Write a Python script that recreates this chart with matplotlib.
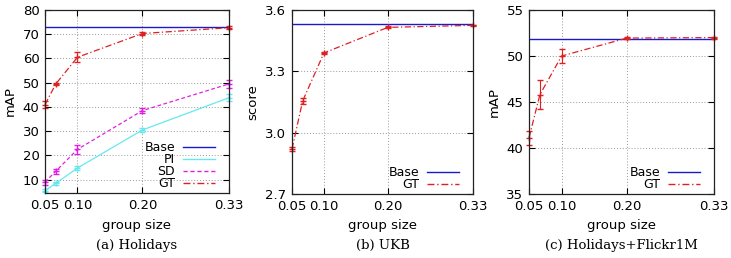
import numpy as np
import matplotlib
matplotlib.use("Agg")
import matplotlib.pyplot as plt
from matplotlib.lines import Line2D

# group sizes (1/20, 1/15, 1/10, 1/5, 1/3)
group_size = [1 / 20, 1 / 15, 1 / 10, 1 / 5, 1 / 3]
xtick_vals = [0.05, 0.10, 0.20, 1 / 3]
xtick_labels = ["0.05", "0.10", "0.20", "0.33"]

# (a) Holidays
hol_base = 73.0
hol_gt = [41.0, 49.5, 60.5, 70.3, 72.7]
hol_gt_err = [1.5, 0.5, 2.0, 0.5, 0.5]
hol_sd = [9.0, 13.5, 22.5, 38.5, 49.5]
hol_sd_err = [1.0, 1.0, 1.8, 1.0, 1.5]
hol_pi = [5.5, 8.5, 14.8, 30.5, 43.8]
hol_pi_err = [0.5, 0.5, 0.7, 0.8, 1.5]

# (b) UKB
ukb_base = 3.53
ukb_gt = [2.92, 3.155, 3.39, 3.515, 3.525]
ukb_gt_err = [0.01, 0.015, 0.005, 0.005, 0.003]

# (c) Holidays+Flickr1M
hf_base = 51.9
hf_gt = [41.1, 45.8, 50.0, 51.95, 52.0]
hf_gt_err = [0.8, 1.6, 0.8, 0.1, 0.1]

BLUE = "#1a1acc"
CYAN = "#66e8ee"
MAGENTA = "#e020e0"
RED = "#e02020"
LS = {"PI": "-", "SD": (0, (3, 2)), "GT": (0, (5, 2, 1, 2))}
COL = {"Base": BLUE, "PI": CYAN, "SD": MAGENTA, "GT": RED}

plt.rcParams["font.family"] = "DejaVu Sans"
plt.rcParams["font.size"] = 9.5

fig = plt.figure(figsize=(7.31, 2.58), dpi=100)
W, H = 731, 258


def add_ax(left, right, top, bottom):
    return fig.add_axes([left / W, 1 - bottom / H, (right - left) / W, (bottom - top) / H])


def style(ax, ylim, yticks, ylabel):
    ax.set_xlim(0.05, 1 / 3)
    ax.set_ylim(*ylim)
    ax.set_xticks(xtick_vals)
    ax.set_xticklabels(xtick_labels)
    ax.set_yticks(yticks)
    ax.grid(True, linestyle=(0, (1, 2)), color="#999999", linewidth=0.7)
    ax.tick_params(direction="in", length=4, width=0.8, top=True, right=True,
                   labeltop=False, labelright=False, labelsize=9.5, pad=4)
    for sp in ax.spines.values():
        sp.set_linewidth(0.9)
        sp.set_color("#222222")
    ax.set_xlabel("group size", fontsize=9.5, labelpad=5)
    ax.set_ylabel(ylabel, fontsize=9.5, labelpad=4)


def series(ax, y, err, name):
    cont = ax.errorbar(group_size, y, yerr=err, color=COL[name], linestyle=LS[name],
                       linewidth=0.9, marker="+", markersize=4, capsize=2,
                       elinewidth=0.8)
    for art in cont.lines[0:1] + tuple(cont.lines[1]) + tuple(cont.lines[2]):
        art.set_clip_on(False)


def base(ax, val):
    ax.axhline(val, color=BLUE, linewidth=1.0)


def legend(ax, names):
    handles = [Line2D([], [], color=COL[n], linestyle=LS.get(n, "-"), linewidth=1.0)
               for n in names]
    bb = ax.get_position()
    wpx, hpx = bb.width * W, bb.height * H
    ax.legend(handles, names, loc="lower right", frameon=False, fontsize=9,
              markerfirst=False, handlelength=2.6, handletextpad=0.6,
              labelspacing=-0.08, borderaxespad=0.0, borderpad=0.0,
              bbox_to_anchor=(1 - 14 / wpx, 3 / hpx))


# (a)
ax1 = add_ax(45, 229, 10, 193)
base(ax1, hol_base)
series(ax1, hol_pi, hol_pi_err, "PI")
series(ax1, hol_sd, hol_sd_err, "SD")
series(ax1, hol_gt, hol_gt_err, "GT")
style(ax1, (4.5, 80), [10, 20, 30, 40, 50, 60, 70, 80], "mAP")
legend(ax1, ["Base", "PI", "SD", "GT"])

# (b)
ax2 = add_ax(292, 473, 10, 194)
base(ax2, ukb_base)
series(ax2, ukb_gt, ukb_gt_err, "GT")
style(ax2, (2.7, 3.6), [2.7, 3.0, 3.3, 3.6], "score")
ax2.set_yticklabels(["2.7", "3.0", "3.3", "3.6"])
legend(ax2, ["Base", "GT"])

# (c)
ax3 = add_ax(529, 714, 10, 194)
base(ax3, hf_base)
series(ax3, hf_gt, hf_gt_err, "GT")
style(ax3, (35, 55), [35, 40, 45, 50, 55], "mAP")
legend(ax3, ["Base", "GT"])

captions = ["(a) Holidays", "(b) UKB", "(c) Holidays+Flickr1M"]
for ax, cap in zip([ax1, ax2, ax3], captions):
    pos = ax.get_position()
    fig.text((pos.x0 + pos.x1) / 2, 1 - 245 / H, cap, ha="center", va="center",
             fontsize=9.5, family="DejaVu Serif")

fig.savefig("out.png", dpi=100)
